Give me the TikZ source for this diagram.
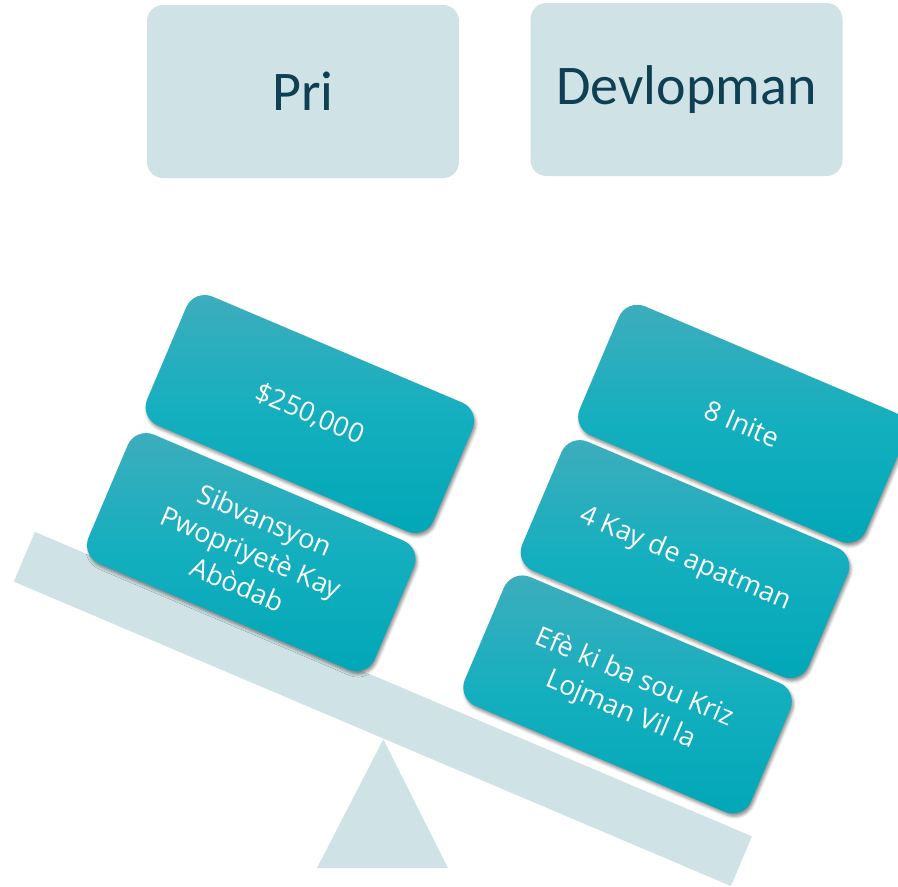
\documentclass[tikz,border=0pt]{standalone}
\usepackage{fontspec}
\newfontfamily\headfont{Carlito}
\newfontfamily\boxfont{Open Sans}
\usetikzlibrary{shadows.blur}
\definecolor{palegrey}{HTML}{CFE2E6}
\definecolor{headtext}{HTML}{0F3F52}
\definecolor{tealtop}{HTML}{3FADBC}
\definecolor{tealmid}{HTML}{14AFBF}
\definecolor{tealbot}{HTML}{00A7B7}
\begin{document}
\begin{tikzpicture}[x=1pt,y=1pt,
  headbox/.style={fill=palegrey,rounded corners=16pt,minimum width=312pt,
    minimum height=173pt,text=headtext,font=\headfont\fontsize{56}{60}\selectfont},
  weightbox/.style={rounded corners=20pt,minimum width=311pt,minimum height=140pt,
    top color=tealtop,bottom color=tealbot,middle color=tealmid,text=white,
    align=center,font=\boxfont\fontsize{27}{35}\selectfont,
    blur shadow={shadow xshift=1.5pt,shadow yshift=-3pt,shadow blur radius=3pt,shadow opacity=45}}]
  \useasboundingbox (0,-887) rectangle (898,0);
  % the two sides
  \node [headbox] (pri) at (303,-91.5) {Pri};
  \node [headbox] (devlopman) at (686.5,-89.5) {Devlopman};
  % stand
  \fill [palegrey] (383.3,-739.3) -- (317,-868) -- (448,-868) -- cycle;
  \begin{scope}[rotate=-23,transform shape]
    \fill [palegrey] (240,-476) rectangle (1019,-530);
    % left weights
    \node [weightbox] (sibvansyon) at (447,-410) {Sibvansyon\\Pwopriyetè Kay\\Abòdab};
    \node [weightbox] (kob) at (447,-260) {\$250,000};
    % right weights
    \node [weightbox] (efe) at (849,-394) {Efè ki ba sou Kriz\\Lojman Vil la};
    \node [weightbox] (kay) at (849,-247) {4 Kay de apatman};
    \node [weightbox] (inite) at (849,-100) {8 Inite};
  \end{scope}
\end{tikzpicture}
\end{document}
